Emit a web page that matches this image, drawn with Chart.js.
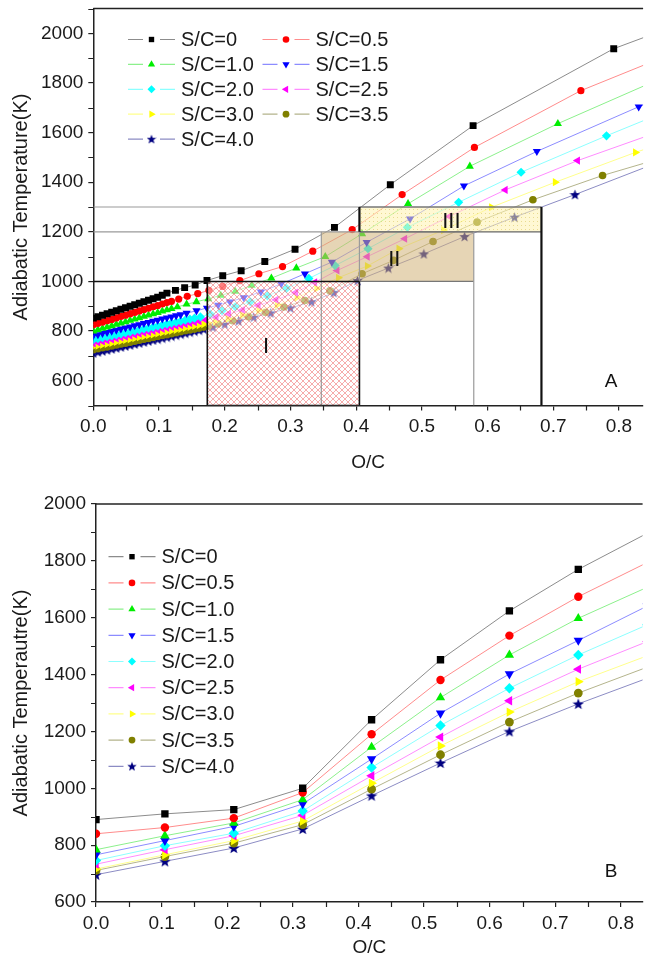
<!DOCTYPE html>
<html><head><meta charset="utf-8">
<script src="https://cdn.jsdelivr.net/npm/chart.js@4"></script>
<style>
html,body{margin:0;padding:0;background:#fff;overflow:hidden;}
#wrapA{position:absolute;left:0;top:0;width:648px;height:480px;}
#wrapB{position:absolute;left:0;top:480px;width:648px;height:485px;}
</style></head><body>
<div id="wrapA"><canvas id="chartA"></canvas></div>
<div id="wrapB"><canvas id="chartB"></canvas></div>
<script>
// ---------- DATA (panel A) : [O/C, T] ----------
const topSC0 = [[0,852],[0.007,858],[0.014,864],[0.021,870],[0.028,876],[0.035,882],[0.042,888],[0.049,894],[0.056,900],[0.063,906],[0.07,912],[0.077,918],[0.084,924],[0.091,930],[0.098,936],[0.105,944],
  [0.112,953],[0.125,964],[0.139,975],[0.155,985],[0.173,1004],[0.197,1023],[0.225,1043],[0.261,1080],[0.307,1130],[0.367,1218],[0.452,1390],[0.578,1628],[0.792,1938],[0.86,2005]];
const topSC05 = [[0,825],[0.007,831],[0.014,836],[0.021,842],[0.028,847],[0.035,853],[0.042,859],[0.049,864],[0.056,870],[0.063,875],[0.07,881],[0.077,887],[0.084,892],[0.091,898],[0.098,903],[0.105,909],[0.112,915],[0.119,920],
  [0.13,929],[0.143,940],[0.159,951],[0.176,964],[0.197,980],[0.223,1003],[0.252,1031],[0.288,1060],[0.334,1122],[0.394,1209],[0.47,1350],[0.58,1540],[0.742,1769],[0.92,1960]];
const topSC10 = [[0,800],[0.007,805],[0.014,811],[0.021,816],[0.028,821],[0.035,827],[0.042,832],[0.049,837],[0.056,843],[0.063,848],[0.07,853],[0.077,859],[0.084,864],[0.091,869],[0.098,874],[0.105,880],[0.112,885],[0.119,890],
  [0.128,897],[0.142,908],[0.157,918],[0.175,930],[0.194,944],[0.216,960],[0.241,984],[0.271,1013],[0.309,1054],[0.353,1100],[0.409,1192],[0.479,1313],[0.573,1464],[0.707,1636],[0.9,1860]];
const topSC15 = [[0,782],[0.007,786],[0.014,791],[0.021,795],[0.028,800],[0.035,804],[0.042,809],[0.049,813],[0.056,817],[0.063,822],[0.07,826],[0.077,831],[0.084,835],[0.091,840],[0.098,844],[0.105,849],[0.112,853],[0.119,857],[0.126,862],[0.133,866],
  [0.142,872],[0.157,882],[0.173,893],[0.19,905],[0.208,918],[0.229,935],[0.255,958],[0.286,990],[0.322,1031],[0.363,1078],[0.416,1158],[0.482,1252],[0.564,1385],[0.675,1524],[0.83,1704],[0.95,1830]];
const topSC20 = [[0,765],[0.007,769],[0.014,773],[0.021,777],[0.028,781],[0.035,785],[0.042,789],[0.049,793],[0.056,797],[0.063,801],[0.07,805],[0.077,809],[0.084,812],[0.091,816],[0.098,820],[0.105,824],[0.112,828],[0.119,832],[0.126,836],[0.133,840],[0.14,844],[0.147,848],[0.154,852],
  [0.163,857],[0.178,868],[0.196,882],[0.216,898],[0.239,918],[0.265,942],[0.294,972],[0.328,1012],[0.368,1064],[0.418,1132],[0.478,1218],[0.556,1319],[0.651,1440],[0.781,1587],[0.95,1770]];
const topSC25 = [[0,750],[0.007,754],[0.014,758],[0.021,762],[0.028,766],[0.035,770],[0.042,774],[0.049,777],[0.056,781],[0.063,785],[0.07,789],[0.077,793],[0.084,797],[0.091,801],[0.098,805],[0.105,809],[0.112,813],[0.119,817],[0.126,821],[0.133,824],[0.14,828],[0.147,832],[0.154,836],[0.161,840],
  [0.171,845],[0.187,856],[0.206,869],[0.227,885],[0.251,904],[0.278,926],[0.308,955],[0.337,996],[0.371,1044],[0.417,1100],[0.474,1172],[0.542,1262],[0.627,1369],[0.737,1487],[0.9,1640]];
const topSC30 = [[0,737],[0.007,741],[0.014,745],[0.021,748],[0.028,752],[0.035,756],[0.042,760],[0.049,764],[0.056,767],[0.063,771],[0.07,775],[0.077,779],[0.084,783],[0.091,786],[0.098,790],[0.105,794],[0.112,798],[0.119,802],[0.126,805],[0.133,809],[0.14,813],[0.147,817],[0.154,821],[0.161,824],[0.168,828],[0.175,832],
  [0.186,838],[0.205,850],[0.227,866],[0.252,884],[0.28,905],[0.31,935],[0.34,972],[0.373,1015],[0.417,1062],[0.465,1132],[0.533,1207],[0.606,1299],[0.703,1400],[0.825,1520],[0.95,1630]];
const topSC35 = [[0,725],[0.007,729],[0.014,733],[0.021,736],[0.028,740],[0.035,744],[0.042,748],[0.049,751],[0.056,755],[0.063,759],[0.07,763],[0.077,767],[0.084,770],[0.091,774],[0.098,778],[0.105,782],[0.112,785],[0.119,789],[0.126,793],[0.133,797],[0.14,801],[0.147,804],[0.154,808],[0.161,812],[0.168,816],[0.175,820],
  [0.19,829],[0.212,842],[0.236,858],[0.262,876],[0.29,897],[0.322,923],[0.36,962],[0.409,1031],[0.457,1085],[0.517,1161],[0.584,1239],[0.669,1329],[0.775,1427],[0.92,1540]];
const topSC40 = [[0,712],[0.007,716],[0.014,720],[0.021,724],[0.028,728],[0.035,732],[0.042,736],[0.049,740],[0.056,744],[0.063,748],[0.07,752],[0.077,756],[0.084,760],[0.091,764],[0.098,768],[0.105,772],[0.112,776],[0.119,780],[0.126,784],[0.133,788],[0.14,792],[0.147,796],[0.154,800],[0.161,804],[0.168,808],
  [0.182,816],[0.2,828],[0.221,841],[0.244,856],[0.27,873],[0.3,893],[0.332,918],[0.366,955],[0.402,1004],[0.449,1054],[0.503,1111],[0.565,1181],[0.641,1259],[0.733,1350],[0.85,1470]];

// regions in panel A: [O/C from, O/C to, T from, T to]
const regionI   = [0.1735, 0.405, 500, 1000];
const regionII  = [0.347, 0.579, 1000, 1200];
const regionIII = [0.405, 0.682, 1200, 1300];

// ---------- DATA (panel B) ----------
const botOC = [0, 0.105, 0.21, 0.315, 0.42, 0.525, 0.63, 0.735, 0.84];
const botSC0  = [890, 910, 925, 1000, 1241, 1452, 1624, 1770, 1897];
const botSC05 = [840, 862, 895, 985, 1190, 1381, 1537, 1674, 1794];
const botSC10 = [784, 833, 878, 960, 1145, 1319, 1469, 1598, 1707];
const botSC15 = [766, 816, 866, 945, 1103, 1264, 1402, 1520, 1641];
const botSC20 = [746, 798, 842, 920, 1073, 1221, 1352, 1469, 1575];
const botSC25 = [733, 784, 833, 905, 1044, 1180, 1308, 1419, 1516];
const botSC30 = [716, 766, 816, 885, 1018, 1149, 1268, 1375, 1466];
const botSC35 = [711, 760, 807, 872, 997, 1118, 1233, 1335, 1426];
const botSC40 = [696, 743, 790, 857, 974, 1089, 1200, 1297, 1387];

const seriesLabels = ['S/C=0','S/C=0.5','S/C=1.0','S/C=1.5','S/C=2.0','S/C=2.5','S/C=3.0','S/C=3.5','S/C=4.0'];
const xTicks = [0, 0.1, 0.2, 0.3, 0.4, 0.5, 0.6, 0.7, 0.8];
const yTicksA = [600, 800, 1000, 1200, 1400, 1600, 1800, 2000];
const yTicksB = [600, 800, 1000, 1200, 1400, 1600, 1800, 2000];
const xMinorStep = 0.05;
const yMinorStep = 100;

// ---------- STYLE ----------
const FONT = "'Liberation Sans', Arial, sans-serif";
Chart.defaults.font.family = FONT;
Chart.defaults.color = '#1a1a1a';
const markerColors = ['#000000','#ff0000','#00ee00','#0000ff','#00ffff','#ff00ff','#ffff00','#808000','#000080'];
const lineColors = ['#8c8c8c','#ff8c8c','#8cf08c','#8c8cff','#8cffff','#ff8cff','#ffff8c','#b4b48c','#8c8cc4'];
const pStyles = ['rect','circle','triangle','triangle','rectRot','triangle','triangle','circle','star'];
const pRot = [0,0,0,180,0,270,90,0,0];

function makeStar(size, color){
  const c = document.createElement('canvas'); c.width = size; c.height = size;
  const g = c.getContext('2d'); g.fillStyle = color; g.beginPath();
  for (let i=0;i<10;i++){ const r = (i%2===0) ? size/2 : size/2*0.42; const a = -Math.PI/2 + i*Math.PI/5;
    g.lineTo(size/2 + r*Math.cos(a), size/2 + r*Math.sin(a) + size*0.04); }
  g.closePath(); g.fill(); return c;
}
const starA = makeStar(11, '#000080'), starB = makeStar(12, '#000080'), starL = makeStar(10, '#000080');
const radA = [4.9,3.6,4.7,4.7,4.6,4.7,4.7,3.8,4];
const radB = [5.2,4.2,5.4,5.4,5.2,5.4,5.4,4.4,4.5];
const radL = [3.8,3.3,4.2,4.2,4,4.2,4.2,3.4,4];

function styleFor(i, which){ if (i===8) return which==='A'?starA:(which==='B'?starB:starL); return pStyles[i]; }

function makeDatasets(arrs, which){
  return arrs.map((d,i)=>({
    label: seriesLabels[i], data: d, showLine: true, tension: 0,
    borderColor: lineColors[i], borderWidth: 1,
    backgroundColor: markerColors[i], pointBackgroundColor: markerColors[i],
    pointBorderColor: markerColors[i], pointBorderWidth: 0,
    pointRadius: (which==='A'?radA:radB)[i], pointStyle: styleFor(i, which), pointRotation: pRot[i]
  }));
}

function drawLegend(chart, cols, x0s, y0, dy){
  const ctx = chart.ctx; ctx.save();
  ctx.font = '20px ' + FONT; ctx.textBaseline = 'middle'; ctx.fillStyle = '#1a1a1a';
  seriesLabels.forEach((lab,i)=>{
    const col = i % cols, row = Math.floor(i / cols);
    const bx = x0s[col], y = y0 + row*dy;
    ctx.strokeStyle = lineColors[i]; ctx.lineWidth = 1.2;
    ctx.beginPath(); ctx.moveTo(bx, y); ctx.lineTo(bx+15, y); ctx.moveTo(bx+32, y); ctx.lineTo(bx+47, y); ctx.stroke();
    ctx.fillStyle = markerColors[i]; ctx.strokeStyle = markerColors[i];
    Chart.helpers.drawPoint(ctx, {pointStyle: styleFor(i,'L'), radius: radL[i], rotation: pRot[i], borderWidth: 0}, bx+23.5, y);
    ctx.fillStyle = '#1a1a1a'; ctx.fillText(lab, bx+53, y+1);
  });
  ctx.restore();
}

function drawMinor(chart){
  const {ctx, chartArea:a, scales:{x,y}} = chart; ctx.save();
  ctx.strokeStyle = '#222'; ctx.lineWidth = 1.2; ctx.beginPath();
  for (let k=1;k<40;k+=2){ const v = k*xMinorStep; if (v > x.max) break;
    const px = Math.round(x.getPixelForValue(v))+0.5; ctx.moveTo(px, a.bottom); ctx.lineTo(px, a.bottom+5); }
  for (let k=1;k<40;k+=2){ const v = k*yMinorStep; if (v > y.max) break; if (v < y.min) continue;
    const py = Math.round(y.getPixelForValue(v))+0.5; ctx.moveTo(a.left, py); ctx.lineTo(a.left-5, py); }
  ctx.stroke();
  ctx.lineWidth = 1.5; ctx.beginPath(); ctx.moveTo(a.left, a.top); ctx.lineTo(a.right, a.top); ctx.stroke();
  ctx.restore();
}

function patternCanvas(kind){
  const c = document.createElement('canvas');
  if (kind==='hatch'){ c.width=6; c.height=6; const g=c.getContext('2d'); g.strokeStyle='rgba(235,80,80,0.6)'; g.lineWidth=0.8;
    g.beginPath(); g.moveTo(0,0); g.lineTo(6,6); g.moveTo(6,0); g.lineTo(0,6); g.stroke(); }
  else { c.width=4; c.height=4; const g=c.getContext('2d'); g.fillStyle='rgba(215,195,90,0.55)'; g.fillRect(1,1,1,1); }
  return c;
}
const hatchC = patternCanvas('hatch'), dotC = patternCanvas('dot');

const decorA = {
  id: 'decorA',
  afterDatasetsDraw(chart){
    const {ctx, chartArea:a, scales:{x,y}} = chart;
    const X = v=>x.getPixelForValue(v), Y = v=>y.getPixelForValue(v);
    const rect = r=>[X(r[0]), Y(r[3]), X(r[1])-X(r[0]), Y(r[2])-Y(r[3])];
    ctx.save(); ctx.beginPath(); ctx.rect(a.left, a.top, a.width, a.height); ctx.clip();
    let r = rect(regionI);
    ctx.fillStyle = 'rgba(255,255,255,0.5)'; ctx.fillRect(...r);
    ctx.fillStyle = ctx.createPattern(hatchC, 'repeat'); ctx.fillRect(...r);
    r = rect(regionII); ctx.fillStyle = 'rgba(210,178,120,0.55)'; ctx.fillRect(...r);
    r = rect(regionIII); ctx.fillStyle = 'rgba(255,242,175,0.55)'; ctx.fillRect(...r);
    ctx.fillStyle = ctx.createPattern(dotC, 'repeat'); ctx.fillRect(...r);
    const h = (v,x0,x1,c,w)=>{ ctx.strokeStyle=c; ctx.lineWidth=w; ctx.beginPath(); ctx.moveTo(X(x0),Y(v)); ctx.lineTo(X(x1),Y(v)); ctx.stroke(); };
    const vl = (v,y0,y1,c,w)=>{ ctx.strokeStyle=c; ctx.lineWidth=w; ctx.beginPath(); ctx.moveTo(X(v),Y(y0)); ctx.lineTo(X(v),Y(y1)); ctx.stroke(); };
    h(regionIII[3], 0, regionIII[1], '#9a9a9a', 1.2);
    h(regionII[3], 0, regionII[1], '#9a9a9a', 1.2);
    h(regionIII[2], regionIII[0], regionIII[1], '#666', 1.2);
    h(regionIII[3], regionIII[0], regionIII[1], '#666', 1.2);
    h(regionII[2], regionI[1], regionII[1], '#777', 1.2);
    vl(regionII[0], 500, regionII[3], '#9a9a9a', 1.2);
    vl(regionII[1], 500, regionII[3], '#9a9a9a', 1.2);
    vl(regionI[1], regionII[2], regionII[3], '#9a9a9a', 1.2);
    h(regionI[3], 0, regionI[1], '#111', 1.6);
    vl(regionI[0], regionI[2], regionI[3], '#111', 1.6);
    vl(regionI[1], regionI[2], regionI[3], '#111', 1.6);
    h(regionI[2], regionI[0], regionI[1], '#111', 1.6);
    vl(regionIII[0], regionIII[2], regionIII[3], '#111', 2.2);
    vl(regionIII[1], 500, regionIII[3], '#111', 2.2);
    ctx.restore();
    ctx.save(); ctx.fillStyle = '#111'; ctx.font = '22px ' + FONT; ctx.textAlign = 'center'; ctx.textBaseline = 'middle';
    ctx.fillText('I', X(0.263), Y(737));
    ctx.fillText('II', X(0.458), Y(1088));
    ctx.fillText('III', X(0.545), Y(1240));
    ctx.font = '19px ' + FONT; ctx.fillText('A', X(0.788), Y(595));
    ctx.restore();
  },
  afterDraw(chart){
    drawMinor(chart);
    drawLegend(chart, 2, [128, 262.5], 39.5, 24.9);
  }
};
const decorB = {
  id: 'decorB',
  afterDraw(chart){
    const {ctx, scales:{x,y}} = chart;
    drawMinor(chart);
    ctx.save(); ctx.fillStyle='#111'; ctx.font='19px ' + FONT; ctx.textAlign='center'; ctx.textBaseline='middle';
    ctx.fillText('B', x.getPixelForValue(0.785), y.getPixelForValue(705)); ctx.restore();
    drawLegend(chart, 1, [108.5], 76.7, 26.2);
  }
};

function scales(xMax, yMin, yMax, yTicks, yTitle, yWidth, xHeight){
  const tickFont = {size: 19, family: FONT};
  const grid = {display:true, drawOnChartArea:false, drawTicks:true, tickLength:5, color:'#222', lineWidth:1.2};
  const border = {display:true, color:'#222', width:1.5};
  return {
    x: { type:'linear', min:0, max:xMax, grid, border,
      afterBuildTicks: s=>{ s.ticks = xTicks.map(v=>({value:v})); },
      ticks:{autoSkip:false, maxRotation:0, font:tickFont, color:'#1a1a1a', padding:5,
        callback:v=>Number(v).toFixed(1)},
      title:{display:true, text:'O/C', font:{size:19, family:FONT}, color:'#1a1a1a', padding:{top:0,bottom:6}},
      afterFit:s=>{ s.height = xHeight; s.paddingLeft = 0; s.paddingRight = 0; } },
    y: { type:'linear', min:yMin, max:yMax, grid, border,
      afterBuildTicks: s=>{ s.ticks = yTicks.map(v=>({value:v})); },
      ticks:{autoSkip:false, font:tickFont, color:'#1a1a1a', padding:5, callback:v=>String(Math.round(v))},
      title:{display:true, text:yTitle, font:{size:20, family:FONT}, color:'#1a1a1a', padding:{top:9,bottom:0}},
      afterFit:s=>{ s.width = yWidth; s.paddingTop = 0; s.paddingBottom = 0; } }
  };
}

const topArrs = [topSC0, topSC05, topSC10, topSC15, topSC20, topSC25, topSC30, topSC35, topSC40]
  .map(d=>d.map(p=>({x:p[0], y:p[1]})));
const botArrs = [botSC0, botSC05, botSC10, botSC15, botSC20, botSC25, botSC30, botSC35, botSC40]
  .map(d=>d.map((v,k)=>({x:botOC[k], y:v})));

new Chart(document.getElementById('chartA'), {
  type:'scatter',
  data:{datasets: makeDatasets(topArrs,'A')},
  options:{ responsive:true, maintainAspectRatio:false, animation:false, devicePixelRatio:1, events:[],
    layout:{padding:{top:8.5, right:0, left:0, bottom:0}},
    plugins:{legend:{display:false}, tooltip:{enabled:false}},
    scales: scales(0.8367, 500, 2100, yTicksA, 'Adiabatic Temperature(K)', 93.3, 74.5) },
  plugins:[decorA]
});
new Chart(document.getElementById('chartB'), {
  type:'scatter',
  data:{datasets: makeDatasets(botArrs,'B')},
  options:{ responsive:true, maintainAspectRatio:false, animation:false, devicePixelRatio:1, events:[],
    layout:{padding:{top:24, right:0, left:0, bottom:0}},
    plugins:{legend:{display:false}, tooltip:{enabled:false}},
    scales: scales(0.833, 600, 2000, yTicksB, 'Adiabatic Temperautre(K)', 96, 63) },
  plugins:[decorB]
});
</script>
</body></html>
